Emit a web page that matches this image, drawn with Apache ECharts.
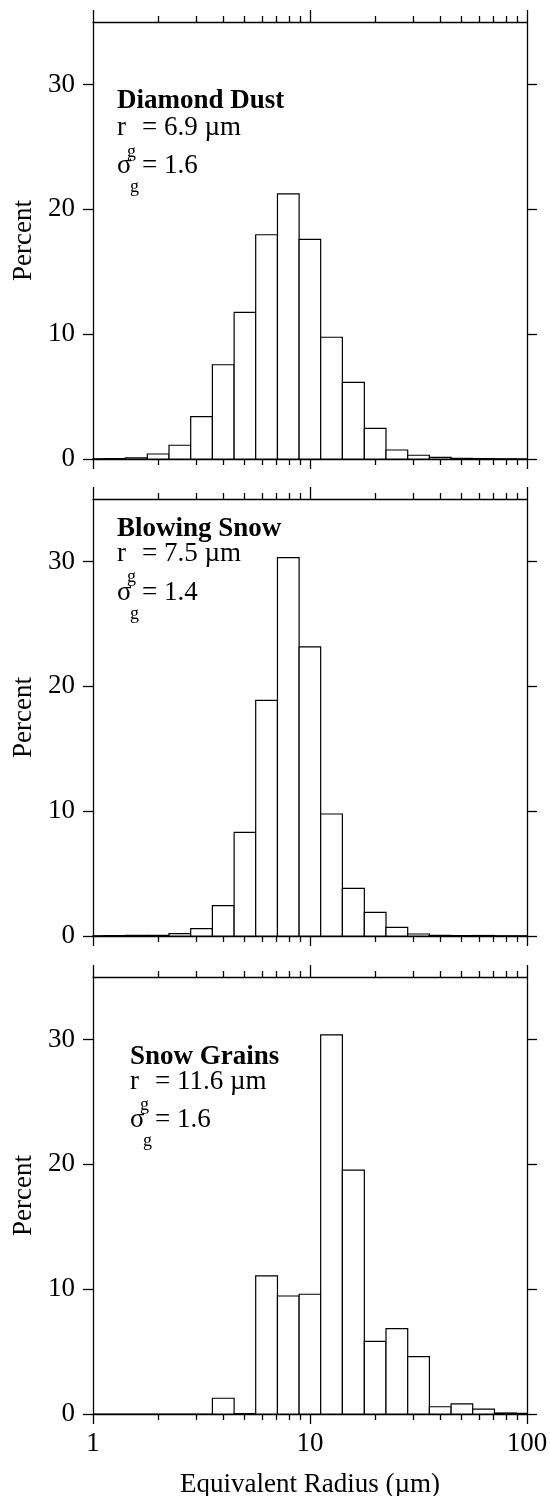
<!DOCTYPE html>
<html><head><meta charset="utf-8">
<script src="https://cdn.jsdelivr.net/npm/echarts@6.0.0/dist/echarts.min.js"></script>
<style>html,body{margin:0;padding:0;background:#fff}#c{width:550px;height:1496px}</style>
</head><body><div id="c"></div>
<script>
// ---- data ----
const binEdges = [0.891, 1.12, 1.41, 1.78, 2.24, 2.82, 3.55, 4.47, 5.62, 7.08, 8.91,
                  11.2, 14.1, 17.8, 22.4, 28.2, 35.5, 44.7, 56.2, 70.8, 89.1, 112];
const diamondDust = [0.02, 0.03, 0.1, 0.4, 1.1, 3.4, 7.55, 11.75, 17.96, 21.24, 17.59,
                     9.75, 6.13, 2.45, 0.72, 0.3, 0.13, 0.05, 0.03, 0.02, 0.01];
const blowingSnow = [0.02, 0.03, 0.05, 0.05, 0.19, 0.59, 2.43, 8.3, 18.87, 30.3, 23.16,
                     9.77, 3.82, 1.9, 0.69, 0.16, 0.05, 0.03, 0.04, 0.02, 0.02];
const snowGrains  = [0, 0, 0, 0, 0, 0, 1.26, 0.03, 11.07, 9.45, 9.59,
                     30.36, 19.54, 5.82, 6.83, 4.59, 0.58, 0.81, 0.39, 0.08, 0.05];
const panelTitles = ['Diamond Dust', 'Blowing Snow', 'Snow Grains'];
const radiusTexts = ['= 6.9 \u00b5m', '= 7.5 \u00b5m', '= 11.6 \u00b5m'];
const sigmaTexts  = ['= 1.6', '= 1.4', '= 1.6'];
const yTicks = [0, 10, 20, 30];
const xMajorTicks = [1, 10, 100];
const xMinorTicks = [2, 3, 4, 5, 6, 7, 8, 9, 20, 30, 40, 50, 60, 70, 80, 90];
const xTickLabels = {1: '1', 10: '10', 100: '100'};
const xAxisTitle = 'Equivalent Radius (\u00b5m)';
const yAxisTitle = 'Percent';

// ---- layout ----
const FONT = "'Liberation Serif','Times New Roman',serif";
const panels = [diamondDust, blowingSnow, snowGrains];
const tops = [22, 499, 977];
const textPos = [
  {x: 117, title: 101, r: 128, rs: 152, s: 166, ss: 187},
  {x: 117, title: 529, r: 554, rs: 577, s: 593, ss: 614},
  {x: 130, title: 1057, r: 1082, rs: 1105, s: 1120, ss: 1141}
];
const black = {color: '#000', width: 1.3};

const grids = [], xAxes = [], yAxes = [], series = [], graphics = [];

function renderBar(params, api) {
  const p0 = api.coord([api.value(0), 0]);
  const p1 = api.coord([api.value(1), api.value(2)]);
  const rect = {x: p0[0], y: p1[1], width: p1[0] - p0[0], height: p0[1] - p1[1]};
  const cs = params.coordSys;
  const clipped = echarts.graphic.clipRectByRect(rect, {x: cs.x, y: cs.y, width: cs.width, height: cs.height});
  if (!clipped) return null;
  return {type: 'rect', shape: clipped, style: {fill: '#fff', stroke: '#000', lineWidth: 1.2}};
}

panels.forEach((vals, i) => {
  const last = i === panels.length - 1;
  grids.push({left: 93, width: 434, top: tops[i], height: 437, outerBoundsMode: 'none', containLabel: false});
  const baseX = {type: 'log', logBase: 10, min: 1, max: 100, gridIndex: i,
                 splitLine: {show: false}, minorTick: {show: false}};
  // bottom major
  xAxes.push(Object.assign({}, baseX, {
    position: 'bottom',
    axisLine: {show: true, onZero: false, lineStyle: black},
    axisTick: {show: true, inside: false, length: 10, customValues: xMajorTicks, lineStyle: black},
    axisLabel: {show: last, customValues: xMajorTicks, margin: 16, fontSize: 27, color: '#000',
                fontFamily: FONT, formatter: v => xTickLabels[Math.round(v)] || ''},
    name: last ? xAxisTitle : '', nameLocation: 'middle', nameGap: 57,
    nameTextStyle: {fontSize: 27, color: '#000', fontFamily: FONT}
  }));
  // bottom minor
  xAxes.push(Object.assign({}, baseX, {
    position: 'bottom',
    axisLine: {show: false, onZero: false},
    axisTick: {show: true, inside: false, length: 6, customValues: xMinorTicks, lineStyle: black},
    axisLabel: {show: false}
  }));
  // top major
  xAxes.push(Object.assign({}, baseX, {
    position: 'top',
    axisLine: {show: true, onZero: false, lineStyle: black},
    axisTick: {show: true, inside: false, length: 12, customValues: xMajorTicks, lineStyle: black},
    axisLabel: {show: false}
  }));
  // top minor
  xAxes.push(Object.assign({}, baseX, {
    position: 'top',
    axisLine: {show: false, onZero: false},
    axisTick: {show: true, inside: false, length: 6, customValues: xMinorTicks, lineStyle: black},
    axisLabel: {show: false}
  }));
  yAxes.push({
    type: 'value', min: 0, max: 35, gridIndex: i, position: 'left',
    splitLine: {show: false},
    axisLine: {show: true, onZero: false, lineStyle: black},
    axisTick: {show: true, inside: false, length: 10, customValues: yTicks, lineStyle: black},
    axisLabel: {show: true, customValues: yTicks, margin: 18, fontSize: 27, color: '#000', fontFamily: FONT},
    name: yAxisTitle, nameLocation: 'middle', nameGap: 54, nameRotate: 90,
    nameTextStyle: {fontSize: 27, color: '#000', fontFamily: FONT}
  });
  yAxes.push({
    type: 'value', min: 0, max: 35, gridIndex: i, position: 'right',
    splitLine: {show: false},
    axisLine: {show: true, onZero: false, lineStyle: black},
    axisTick: {show: true, inside: false, length: 10, customValues: yTicks, lineStyle: black},
    axisLabel: {show: false}
  });
  series.push({
    type: 'custom', xAxisIndex: i * 4, yAxisIndex: i * 2,
    encode: {x: [0, 1], y: 2},
    data: vals.map((v, k) => [binEdges[k], binEdges[k + 1], v]),
    renderItem: renderBar, z: 1, silent: true
  });
  const tp = textPos[i];
  const txt = (x, y, text, size, weight) => ({
    type: 'text', x: x, y: y, z: 100,
    style: {text: text, fill: '#000', fontSize: size, fontWeight: weight || 'normal',
            fontFamily: FONT, textAlign: 'left', verticalAlign: 'middle'}
  });
  graphics.push(txt(tp.x, tp.title, panelTitles[i], 27, 'bold'));
  graphics.push(txt(tp.x, tp.r, 'r', 27));
  graphics.push(txt(tp.x + 10, tp.rs, 'g', 18));
  graphics.push(txt(tp.x + 25, tp.r, radiusTexts[i], 27));
  graphics.push(txt(tp.x, tp.s, '\u03c3', 27));
  graphics.push(txt(tp.x + 13, tp.ss, 'g', 18));
  graphics.push(txt(tp.x + 25, tp.s, sigmaTexts[i], 27));
});

const chart = echarts.init(document.getElementById('c'), null, {renderer: 'canvas'});
chart.setOption({
  animation: false,
  backgroundColor: '#fff',
  grid: grids, xAxis: xAxes, yAxis: yAxes, series: series, graphic: graphics
});
</script></body></html>
